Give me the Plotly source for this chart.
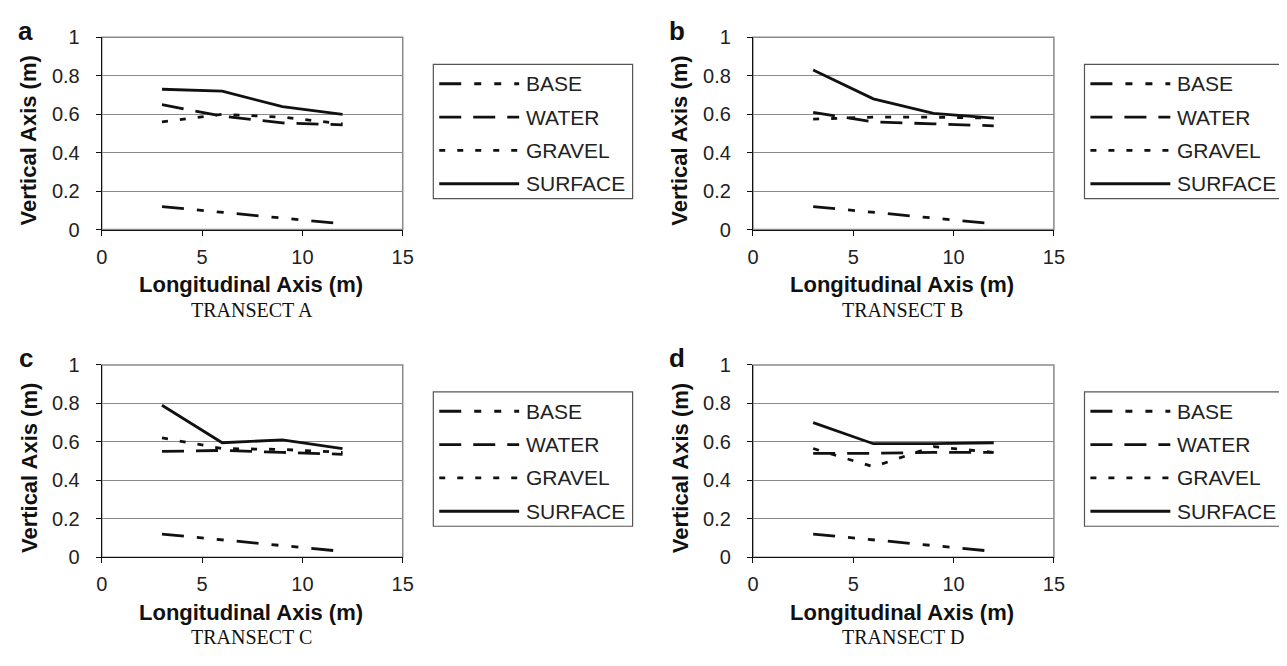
import plotly.graph_objects as go

PAGE_W, PAGE_H = 1287, 666
PAGE_MARGIN = 8            # default body margin of the written html page
W, H = PAGE_W - 2 * PAGE_MARGIN, PAGE_H - 2 * PAGE_MARGIN

# ---------------- data ----------------
x_pos = [3, 6, 9, 12]
series_names = ["BASE", "WATER", "GRAVEL", "SURFACE"]

base_a = [0.12, 0.09, 0.06, 0.03]
water_a = [0.65, 0.59, 0.555, 0.545]
gravel_a = [0.56, 0.60, 0.585, 0.55]
surface_a = [0.73, 0.72, 0.64, 0.60]

base_b = [0.12, 0.09, 0.06, 0.03]
water_b = [0.61, 0.56, 0.55, 0.54]
gravel_b = [0.575, 0.585, 0.585, 0.58]
surface_b = [0.83, 0.68, 0.605, 0.58]

base_c = [0.12, 0.09, 0.06, 0.03]
water_c = [0.55, 0.555, 0.545, 0.535]
gravel_c = [0.62, 0.565, 0.56, 0.545]
surface_c = [0.79, 0.595, 0.61, 0.565]

base_d = [0.12, 0.09, 0.06, 0.03]
water_d = [0.54, 0.54, 0.545, 0.545]
gravel_d = [0.565, 0.47, 0.575, 0.545]
surface_d = [0.70, 0.59, 0.59, 0.595]

panel_letters = ["a", "b", "c", "d"]
transect_labels = ["TRANSECT A", "TRANSECT B", "TRANSECT C", "TRANSECT D"]
x_title = "Longitudinal Axis (m)"
y_title = "Vertical Axis (m)"

panels_data = [
    [base_a, water_a, gravel_a, surface_a],
    [base_b, water_b, gravel_b, surface_b],
    [base_c, water_c, gravel_c, surface_c],
    [base_d, water_d, gravel_d, surface_d],
]

# ---------------- styles ----------------
dashes = ["22px,13px,7px,13px,7px,13px", "22px,12px", "6px,12px", "solid"]
LINE_W = 2.8
INK = "#111111"
GRID = "#8a8a8a"
SANS = "Liberation Sans, Arial, sans-serif"
SERIF = "Liberation Serif, Times New Roman, serif"

PX_L, PX_R = 97, 402       # panel a plot-area x-extent (page px)
PY_T, PY_B = 27, 226       # panel a plot-area y-extent (page px)
DX, DY = 660, 339          # offsets for right column / bottom row
offsets = [(0, 0), (DX, 0), (0, DY), (DX, DY)]


def fx(px):
    return (px - PAGE_MARGIN) / W


def fy(py):
    return 1 - (py - PAGE_MARGIN) / H


fig = go.Figure()
shapes = []
annotations = []


def note(x, y, text, font, **kw):
    d = dict(x=fx(x), y=fy(y), xref="paper", yref="paper", text=text,
             showarrow=False, font=font, xanchor="center", yanchor="middle")
    d.update(kw)
    annotations.append(d)


for i, (ox, oy) in enumerate(offsets):
    k = "" if i == 0 else str(i + 1)
    xa, ya = "x" + k, "y" + k
    for j, name in enumerate(series_names):
        fig.add_trace(go.Scatter(
            x=x_pos, y=panels_data[i][j], mode="lines", name=name,
            line=dict(color=INK, width=LINE_W, dash=dashes[j]),
            xaxis=xa, yaxis=ya, showlegend=False, hoverinfo="x+y+name",
        ))
    xd = [fx(PX_L + ox), fx(PX_R + ox)]
    yd = [fy(PY_B + oy), fy(PY_T + oy)]
    fig.update_layout({
        "xaxis" + k: dict(
            domain=xd, anchor=ya, range=[0, 15], tickmode="linear", tick0=0, dtick=5,
            showgrid=False, zeroline=False, showline=True, linecolor=INK, linewidth=1.2,
            ticks="outside", ticklen=5, tickcolor=INK, ticklabelstandoff=4,
            tickfont=dict(family=SANS, size=20, color="#222222"),
        ),
        "yaxis" + k: dict(
            domain=yd, anchor=xa, range=[0, 1], tickmode="linear", tick0=0, dtick=0.2,
            showgrid=True, gridcolor=GRID, gridwidth=1.3, zeroline=False,
            showline=True, linecolor=INK, linewidth=1.2,
            ticks="outside", ticklen=5, tickcolor=INK, ticklabelstandoff=12,
            tickfont=dict(family=SANS, size=20, color="#222222"),
        ),
    })
    # plot-area frame (grey top / right)
    shapes.append(dict(type="rect", xref=xa + " domain", yref=ya + " domain",
                       x0=0, x1=1, y0=0, y1=1, line=dict(color=GRID, width=1.5),
                       layer="below"))
    note(20 + ox, 20 + oy, "<b>%s</b>" % panel_letters[i], dict(family=SANS, size=26, color=INK))
    note(23 + ox, 134 + oy, "<b>%s</b>" % y_title, dict(family=SANS, size=22, color=INK),
         textangle=-90)
    note(248 + ox, 283 + oy, "<b>%s</b>" % x_title, dict(family=SANS, size=22, color=INK))
    note(249 + ox, 309 + oy, transect_labels[i], dict(family=SERIF, size=20, color=INK))
    # legend box
    shapes.append(dict(type="rect", xref="paper", yref="paper",
                       x0=fx(433 + ox), x1=fx(635 + ox), y0=fy(194 + oy), y1=fy(55 + oy),
                       line=dict(color="#555555", width=1.2), fillcolor="rgba(0,0,0,0)"))
    for j, name in enumerate(series_names):
        ly = 75 + j * 34.5 + oy
        shapes.append(dict(type="line", xref="paper", yref="paper",
                           x0=fx(439 + ox), x1=fx(520 + ox), y0=fy(ly), y1=fy(ly),
                           line=dict(color=INK, width=LINE_W, dash=dashes[j])))
        note(525 + ox, ly, name, dict(family=SANS, size=21, color="#222222"),
             xanchor="left")

fig.update_layout(
    width=W, height=H, margin=dict(l=0, r=0, t=0, b=0),
    paper_bgcolor="white", plot_bgcolor="white",
    shapes=shapes, annotations=annotations, showlegend=False,
)

fig.write_html("out.html")
